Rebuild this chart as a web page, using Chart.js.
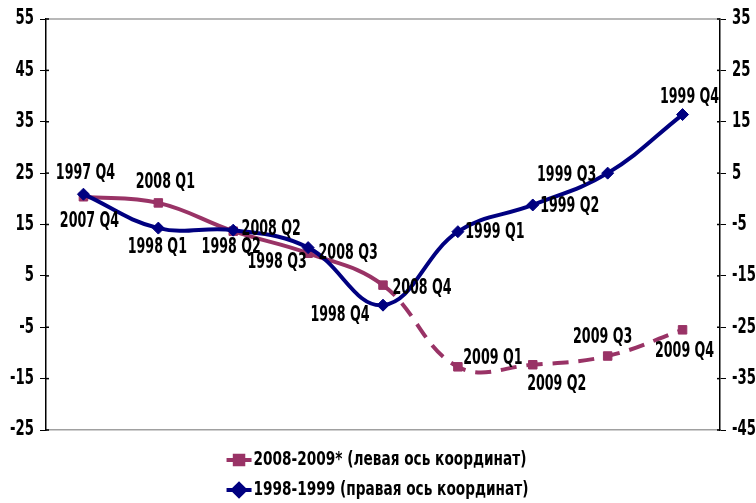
<!DOCTYPE html>
<html>
<head>
<meta charset="utf-8">
<script src="https://cdn.jsdelivr.net/npm/chart.js@4.4.1/dist/chart.umd.min.js"></script>
<style>
html, body { margin: 0; padding: 0; background: #fff; }
#wrap { width: 756px; height: 503px; position: relative; }
</style>
</head>
<body>
<div id="wrap"><canvas id="chart"></canvas></div>
<script>
// категории - кварталы (по одной на точку)
const quarters = ['Q4', 'Q1', 'Q2', 'Q3', 'Q4', 'Q1', 'Q2', 'Q3', 'Q4'];

// подписи точек
const labels2008 = ['2007 Q4', '2008 Q1', '2008 Q2', '2008 Q3', '2008 Q4', '2009 Q1', '2009 Q2', '2009 Q3', '2009 Q4'];
const labels1998 = ['1997 Q4', '1998 Q1', '1998 Q2', '1998 Q3', '1998 Q4', '1999 Q1', '1999 Q2', '1999 Q3', '1999 Q4'];

// значения (левая ось / правая ось)
const values2008 = [20.4, 19.2, 13.7, 9.4, 3.2, -12.7, -12.3, -10.6, -5.5];
const values1998 = [0.9, -5.7, -6.1, -9.5, -20.7, -6.4, -1.2, 5.0, 16.4];

// шкалы
const leftRange = [-25, 55];
const rightRange = [-45, 35];
const tickStep = 10;

// смещения подписей относительно точек [dx, dy]
const offsets2008 = [[6, 25], [7, -20], [38, -2], [40, 0], [39, 3], [35, -8], [24, 20], [-5, -18], [2, 22]];
const offsets1998 = [[2, -21], [-1, 19], [-2, 17], [-31, 15], [-43, 10], [37, 1], [37, 2], [-41, 2], [7, -17]];

// узкий жирный шрифт (как Arial Narrow) - сжимаем по горизонтали
const FONT = "'DejaVu Sans Condensed', 'DejaVu Sans', sans-serif";
const MAROON = '#993366';
const NAVY = '#000080';

function narrowText(ctx, text, x, y, align, sx) {
    ctx.save();
    ctx.translate(x, y);
    ctx.scale(sx, 1);
    ctx.textAlign = align;
    ctx.textBaseline = 'middle';
    ctx.fillText(text, 0, 0);
    ctx.restore();
}

const pointLabels = {
    id: 'pointLabels',
    afterDatasetsDraw(chart) {
        const ctx = chart.ctx;
        ctx.save();
        ctx.font = 'bold 21px ' + FONT;
        ctx.fillStyle = '#000';
        [[labels2008, offsets2008], [labels1998, offsets1998]].forEach(([texts, offs], di) => {
            chart.getDatasetMeta(di).data.forEach((pt, i) => {
                narrowText(ctx, texts[i], pt.x + offs[i][0], pt.y + offs[i][1], 'center', 0.67);
            });
        });
        ctx.restore();
    }
};

// подписи и засечки осей (значения берутся из шкал)
const axisLabels = {
    id: 'axisLabels',
    afterDraw(chart) {
        const ctx = chart.ctx;
        ctx.save();
        ctx.font = 'bold 21px ' + FONT;
        ctx.fillStyle = '#000';
        ctx.strokeStyle = '#000';
        ctx.lineWidth = 1.5;
        const left = chart.scales.y, right = chart.scales.y1;
        left.ticks.forEach(t => {
            const y = left.getPixelForValue(t.value);
            ctx.beginPath(); ctx.moveTo(left.right, y); ctx.lineTo(left.right + 3, y); ctx.stroke();
            narrowText(ctx, String(t.value), left.right - 12, y, 'right', 0.7);
        });
        right.ticks.forEach(t => {
            const y = right.getPixelForValue(t.value);
            ctx.beginPath(); ctx.moveTo(right.left - 3, y); ctx.lineTo(right.left, y); ctx.stroke();
            narrowText(ctx, String(t.value), right.left + 12, y, 'left', 0.7);
        });
        ctx.restore();
    }
};

// верхняя серая линия рамки
const topLine = {
    id: 'topLine',
    beforeDatasetsDraw(chart) {
        const { ctx, chartArea } = chart;
        ctx.save();
        ctx.strokeStyle = '#a0a0a0';
        ctx.lineWidth = 1.5;
        ctx.beginPath();
        ctx.moveTo(chartArea.left, chartArea.top);
        ctx.lineTo(chartArea.right, chartArea.top);
        ctx.stroke();
        ctx.restore();
    }
};

// легенда в две строки снизу
const bottomLegend = {
    id: 'bottomLegend',
    afterDraw(chart) {
        const ctx = chart.ctx;
        const sx = 0.8;
        ctx.save();
        ctx.font = 'bold 19px ' + FONT;
        const items = chart.data.datasets;
        const maxW = Math.max(...items.map(d => ctx.measureText(d.label).width)) * sx;
        const x0 = (chart.width - (28 + maxW)) / 2;
        items.forEach((d, i) => {
            const y = chart.chartArea.bottom + 30 + i * 30;
            ctx.strokeStyle = d.borderColor;
            ctx.lineWidth = 4;
            ctx.setLineDash([]);
            ctx.beginPath();
            ctx.moveTo(x0, y);
            ctx.lineTo(x0 + 25, y);
            ctx.stroke();
            ctx.fillStyle = d.borderColor;
            Chart.helpers.drawPoint(ctx, {
                pointStyle: d.pointStyle, radius: d.pointRadius, rotation: 0, borderWidth: 1
            }, x0 + 12.5, y);
            ctx.fillStyle = '#000';
            narrowText(ctx, d.label, x0 + 27, y, 'left', sx);
        });
        ctx.restore();
    }
};

new Chart(document.getElementById('chart'), {
    type: 'line',
    data: {
        labels: quarters,
        datasets: [{
            label: '2008-2009* (левая ось координат)',
            data: values2008,
            yAxisID: 'y',
            borderColor: MAROON,
            backgroundColor: MAROON,
            borderWidth: 4,
            pointStyle: 'rect',
            pointRadius: 6,
            pointBorderWidth: 1,
            tension: 0.4,
            order: 1,
            segment: {
                borderDash: c => c.p0DataIndex >= 4 ? [16, 10] : undefined
            }
        }, {
            label: '1998-1999 (правая ось координат)',
            data: values1998,
            yAxisID: 'y1',
            borderColor: NAVY,
            backgroundColor: NAVY,
            borderWidth: 4,
            pointStyle: 'rectRot',
            pointRadius: 6,
            pointBorderWidth: 1,
            tension: 0.4,
            order: 0
        }]
    },
    options: {
        responsive: true,
        maintainAspectRatio: false,
        animation: false,
        layout: { padding: { top: 19, bottom: 73, left: 0, right: 0 } },
        plugins: {
            legend: { display: false },
            tooltip: { enabled: false }
        },
        scales: {
            x: {
                offset: true,
                ticks: { display: false },
                grid: { display: false },
                border: { display: true, color: '#a0a0a0', width: 1.5 },
                afterFit: s => { s.height = 0; }
            },
            y: {
                position: 'left',
                min: leftRange[0],
                max: leftRange[1],
                ticks: { stepSize: tickStep, display: false },
                grid: { drawOnChartArea: false, drawTicks: true, tickLength: 6, color: '#000' },
                border: { display: true, color: '#000', width: 1.5 },
                afterFit: s => { s.width = 46; }
            },
            y1: {
                position: 'right',
                min: rightRange[0],
                max: rightRange[1],
                ticks: { stepSize: tickStep, display: false },
                grid: { drawOnChartArea: false, drawTicks: true, tickLength: 6, color: '#000' },
                border: { display: true, color: '#000', width: 1.5 },
                afterFit: s => { s.width = 36; }
            }
        }
    },
    plugins: [topLine, pointLabels, axisLabels, bottomLegend]
});
</script>
</body>
</html>
